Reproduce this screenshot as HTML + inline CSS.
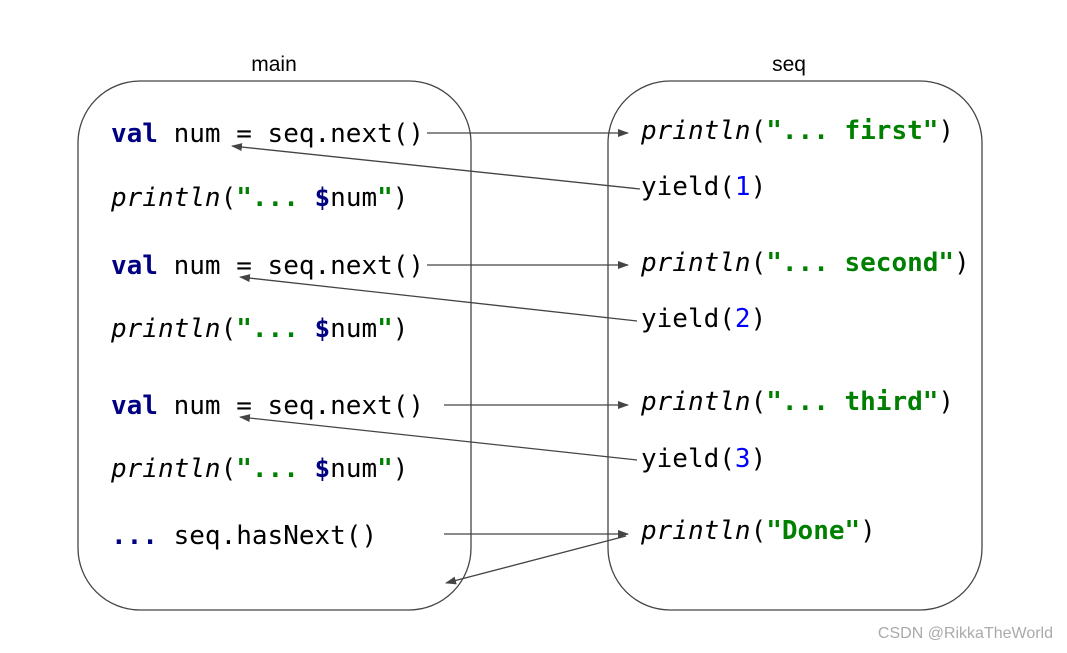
<!DOCTYPE html>
<html><head><style>body{margin:0;background:#fff}</style></head><body>
<svg width="1067" height="648" xmlns="http://www.w3.org/2000/svg">
<defs><marker id="a" markerWidth="11" markerHeight="8" refX="10" refY="4" orient="auto" markerUnits="userSpaceOnUse"><path d="M0,0 L11,4 L0,8 z" fill="#444"/></marker></defs>
<rect x="78" y="81" width="393" height="529" rx="62" fill="none" stroke="#444" stroke-width="1.3"/>
<rect x="608" y="81" width="374" height="529" rx="62" fill="none" stroke="#444" stroke-width="1.3"/>
<g font-family="Liberation Sans, sans-serif" font-size="21" text-anchor="middle" fill="#000">
<text x="274" y="71">main</text><text x="789" y="71">seq</text></g>
<g font-family="DejaVu Sans Mono, Liberation Mono, monospace" font-size="26" fill="#000">
<text x="111" y="142"><tspan fill="#000080" font-weight="bold">val</tspan> num = seq.next()</text>
<text x="111" y="206"><tspan font-style="italic">println</tspan>(<tspan fill="#008000" font-weight="bold">"... </tspan><tspan fill="#000080" font-weight="bold">$</tspan>num<tspan fill="#008000" font-weight="bold">"</tspan>)</text>
<text x="111" y="274"><tspan fill="#000080" font-weight="bold">val</tspan> num = seq.next()</text>
<text x="111" y="337"><tspan font-style="italic">println</tspan>(<tspan fill="#008000" font-weight="bold">"... </tspan><tspan fill="#000080" font-weight="bold">$</tspan>num<tspan fill="#008000" font-weight="bold">"</tspan>)</text>
<text x="111" y="414"><tspan fill="#000080" font-weight="bold">val</tspan> num = seq.next()</text>
<text x="111" y="477"><tspan font-style="italic">println</tspan>(<tspan fill="#008000" font-weight="bold">"... </tspan><tspan fill="#000080" font-weight="bold">$</tspan>num<tspan fill="#008000" font-weight="bold">"</tspan>)</text>
<text x="111" y="544"><tspan fill="#000080" font-weight="bold">...</tspan> seq.hasNext()</text>
<text x="641" y="139"><tspan font-style="italic">println</tspan>(<tspan fill="#008000" font-weight="bold">"... first"</tspan>)</text>
<text x="641" y="195">yield(<tspan fill="#0000ff">1</tspan>)</text>
<text x="641" y="271"><tspan font-style="italic">println</tspan>(<tspan fill="#008000" font-weight="bold">"... second"</tspan>)</text>
<text x="641" y="327">yield(<tspan fill="#0000ff">2</tspan>)</text>
<text x="641" y="410"><tspan font-style="italic">println</tspan>(<tspan fill="#008000" font-weight="bold">"... third"</tspan>)</text>
<text x="641" y="467">yield(<tspan fill="#0000ff">3</tspan>)</text>
<text x="641" y="539"><tspan font-style="italic">println</tspan>(<tspan fill="#008000" font-weight="bold">"Done"</tspan>)</text>
</g>
<g stroke="#444" stroke-width="1.3" fill="none" marker-end="url(#a)">
<line x1="427" y1="133" x2="628" y2="133"/>
<line x1="640" y1="189" x2="232" y2="146"/>
<line x1="427" y1="265" x2="628" y2="265"/>
<line x1="637" y1="321" x2="240" y2="277"/>
<line x1="444" y1="405" x2="628" y2="405"/>
<line x1="637" y1="460" x2="240" y2="417"/>
<line x1="444" y1="534" x2="628" y2="534"/>
<line x1="626" y1="536" x2="446" y2="583"/>
</g>
<text x="1053" y="638" text-anchor="end" font-family="Liberation Sans, sans-serif" font-size="16" fill="#aaa">CSDN @RikkaTheWorld</text>
</svg>
</body></html>
